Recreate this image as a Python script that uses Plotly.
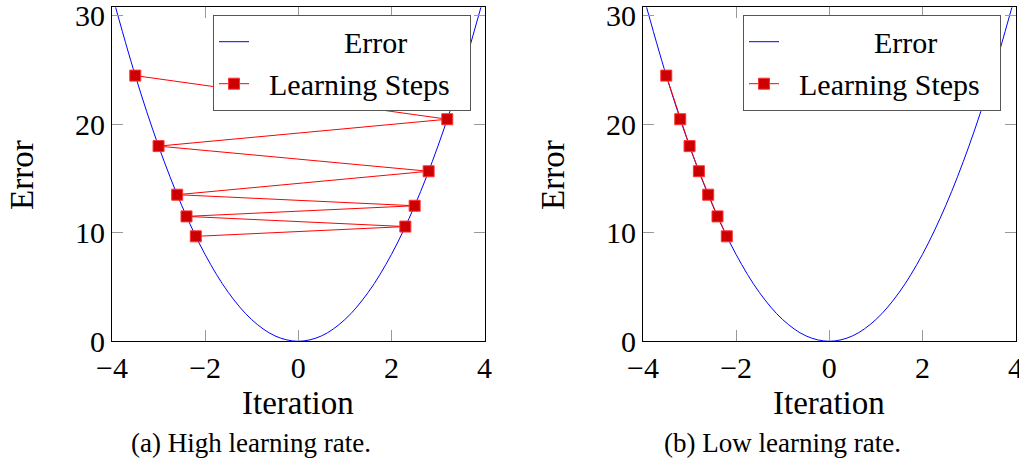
import plotly.graph_objects as go

# Error curve samples
curve_x = [-4, -3.5, -3, -2.5, -2, -1.5, -1, -0.5, 0, 0.5, 1, 1.5, 2, 2.5, 3, 3.5, 4]
curve_y = [32, 24.5, 18, 12.5, 8, 4.5, 2, 0.5, 0, 0.5, 2, 4.5, 8, 12.5, 18, 24.5, 32]

# High learning rate steps
high_x = [-3.5, 3.2, -3.0, 2.8, -2.6, 2.5, -2.4, 2.3, -2.2]
high_y = [24.5, 20.48, 18.0, 15.68, 13.52, 12.5, 11.52, 10.58, 9.68]

# Low learning rate steps
low_x = [-3.5, -3.2, -3.0, -2.8, -2.6, -2.4, -2.2]
low_y = [24.5, 20.48, 18.0, 15.68, 13.52, 11.52, 9.68]

x_ticks = [-4, -2, 0, 2, 4]
y_ticks = [0, 10, 20, 30]

FONT = "Liberation Serif"
W, H = 1019, 467

fig = go.Figure()

for i, (sx, sy) in enumerate([(high_x, high_y), (low_x, low_y)]):
    xa = "x" if i == 0 else "x2"
    ya = "y" if i == 0 else "y2"
    lg = "legend" if i == 0 else "legend2"
    fig.add_trace(go.Scatter(
        x=curve_x, y=curve_y, mode="lines", line=dict(color="#0000ff", width=1, shape="spline"),
        name="\u2003\u2003\u2003Error", xaxis=xa, yaxis=ya, legend=lg, hoverinfo="skip"))
    fig.add_trace(go.Scatter(
        x=sx, y=sy, mode="lines+markers", line=dict(color="#ff0000", width=1),
        marker=dict(symbol="square", size=11, color="#cc0000", line=dict(color="#ff3333", width=1)),
        name="\u2002Learning Steps\u2002", xaxis=xa, yaxis=ya, legend=lg))

dom_x1 = [112 / W, 484.5 / W]
dom_x2 = [643 / W, 1015.5 / W]
dom_y = [1 - 341.3 / H, 1 - 7.3 / H]

axis_common = dict(
    showgrid=False, zeroline=False, showline=True, linecolor="black", linewidth=1,
    mirror="ticks", ticks="inside", ticklen=11, tickcolor="#999999", tickwidth=1,
    tickfont=dict(family=FONT, size=30, color="black"), automargin=False,
    ticklabeloverflow="allow",
)

fig.update_layout(
    width=W, height=H, margin=dict(l=0, r=0, t=0, b=0, autoexpand=False),
    paper_bgcolor="white", plot_bgcolor="white",
    xaxis=dict(domain=dom_x1, range=[-4, 4], tickvals=x_ticks, anchor="y", **axis_common),
    yaxis=dict(domain=dom_y, range=[0, 30.8], tickvals=y_ticks, anchor="x", **axis_common),
    xaxis2=dict(domain=dom_x2, range=[-4, 4], tickvals=x_ticks, anchor="y2", **axis_common),
    yaxis2=dict(domain=dom_y, range=[0, 30.8], tickvals=y_ticks, anchor="x2", **axis_common),
    legend=dict(x=213 / W, y=1 - 14.7 / H, xanchor="left", yanchor="top",
                bordercolor="#555555", borderwidth=1, bgcolor="white",
                font=dict(family=FONT, size=30, color="black")),
    legend2=dict(x=743 / W, y=1 - 14.7 / H, xanchor="left", yanchor="top",
                 bordercolor="#555555", borderwidth=1, bgcolor="white",
                 font=dict(family=FONT, size=30, color="black")),
    showlegend=True,
)

anns = []
for cx in [298, 829]:
    anns.append(dict(text="Iteration", x=cx / W, y=1 - 403 / H, xref="paper", yref="paper",
                     xanchor="center", yanchor="middle",
                     showarrow=False, font=dict(family=FONT, size=33, color="black")))
for ex in [22, 553]:
    anns.append(dict(text="Error", x=ex / W, y=1 - 175 / H, xref="paper", yref="paper",
                     xanchor="center", yanchor="middle",
                     textangle=-90, showarrow=False, font=dict(family=FONT, size=33, color="black")))
for cx, caption in [(251, "(a) High learning rate."), (782, "(b) Low learning rate.")]:
    anns.append(dict(text=caption, x=cx / W, y=1 - 443 / H, xref="paper", yref="paper",
                     xanchor="center", yanchor="middle",
                     showarrow=False, font=dict(family=FONT, size=27, color="black")))
fig.update_layout(annotations=anns)

fig.write_html("out.html", config={"displayModeBar": False},
               post_script="document.body.style.margin='0';")
